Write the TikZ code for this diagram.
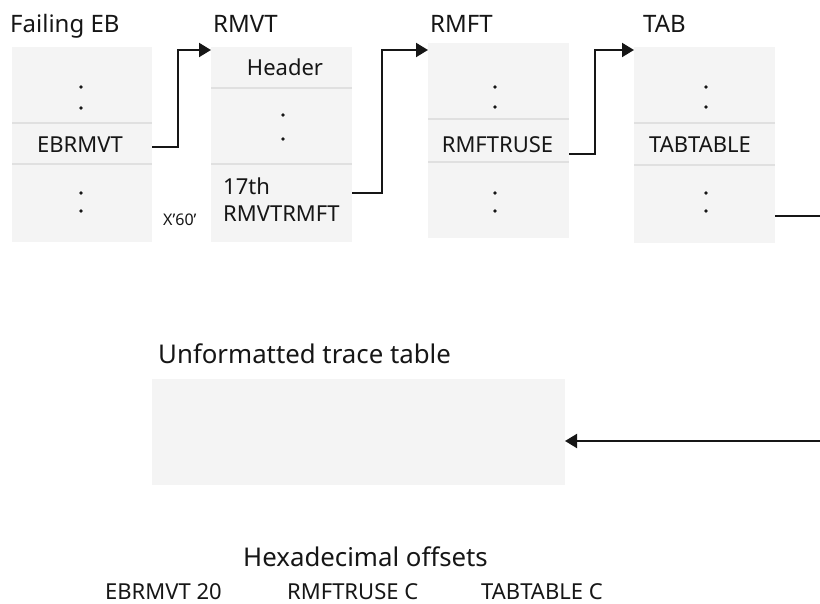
\documentclass[tikz,border=0pt]{standalone}
\usepackage{fontspec}
\setmainfont{Noto Sans}
\usetikzlibrary{arrows.meta,calc}
\definecolor{ink}{HTML}{161616}
\definecolor{boxfill}{HTML}{F4F4F4}
\definecolor{divline}{HTML}{E0E0E0}
\tikzset{
  memblock/.style={fill=boxfill, draw=none, inner sep=0pt, rectangle},
  divider/.style={draw=divline, line width=1.5pt},
  ptr/.style={draw=ink, line width=2pt, -{Triangle[length=12pt,width=14pt]}},
  ptrplain/.style={draw=ink, line width=2pt},
  title/.style={anchor=base west, inner sep=0pt, text=ink, font=\fontsize{24}{28}\selectfont},
  heading/.style={anchor=base west, inner sep=0pt, text=ink, font=\fontsize{25.8}{30}\selectfont},
  field/.style={anchor=base, inner sep=0pt, text=ink, font=\fontsize{22}{26}\selectfont},
  fieldw/.style={anchor=base west, inner sep=0pt, text=ink, font=\fontsize{22}{26}\selectfont},
  small/.style={anchor=base west, inner sep=0pt, text=ink, font=\fontsize{16}{19}\selectfont},
  dotmark/.style={fill=ink, draw=none},
}
\begin{document}
\begin{tikzpicture}[x=1pt,y=-1pt]
\useasboundingbox (0,0) rectangle (820,604);
% boxes
\node[memblock, minimum width=140pt, minimum height=195pt] (eb) at (82,144.5) {};
\node[memblock, minimum width=141pt, minimum height=195pt] (rmvt) at (281.5,144.5) {};
\node[memblock, minimum width=141pt, minimum height=195pt] (rmft) at (498.5,140.5) {};
\node[memblock, minimum width=141pt, minimum height=196pt] (tab) at (704.5,145) {};
\node[memblock, minimum width=413pt, minimum height=106pt] (trace) at (358.5,432) {};
% dividers
\draw[divider] (eb.west |- 0,123) -- (eb.east |- 0,123);
\draw[divider] (eb.west |- 0,164) -- (eb.east |- 0,164);
\draw[divider] (rmvt.west |- 0,88) -- (rmvt.east |- 0,88);
\draw[divider] (rmvt.west |- 0,164) -- (rmvt.east |- 0,164);
\draw[divider] (rmft.west |- 0,119) -- (rmft.east |- 0,119);
\draw[divider] (rmft.west |- 0,162) -- (rmft.east |- 0,162);
\draw[divider] (tab.west |- 0,123) -- (tab.east |- 0,123);
\draw[divider] (tab.west |- 0,165) -- (tab.east |- 0,165);
% titles
\node[title] (t1) at (10,33) {Failing EB};
\node[title] (t2) at (213,33) {RMVT};
\node[title] (t3) at (430,33) {RMFT};
\node[title] (t4) at (643,33) {TAB};
\node[heading] (t5) at (158,363) {Unformatted trace table};
\node[heading] (t6) at (243,566) {Hexadecimal offsets};
% field labels
\node[field] (f1) at (80,153) {EBRMVT};
\node[field] (f2) at (285,76) {Header};
\node[fieldw] (f3) at (223,195) {17th};
\node[fieldw] (f4) at (223,222) {RMVTRMFT};
\node[field] (f5) at (497.5,153) {RMFTRUSE};
\node[field] (f6) at (700,153) {TABTABLE};
\node[small] (f7) at (163,226) {X’60’};
% offsets
\node[fieldw] (o1) at (105,599) {EBRMVT 20};
\node[fieldw] (o2) at (287,599) {RMFTRUSE C};
\node[fieldw] (o3) at (481,599) {TABTABLE C};
% dots
\foreach \x/\y in {81/87,81/108,81/193,81/211,283/115,283/139,495/87,495/107,495/193,495/211,706/87,706/107,706/193,706/211}
  \fill[dotmark] (\x,\y) circle (1.9pt);
% connectors
\coordinate (p1) at (152,147);
\coordinate (q1) at (211,50);
\coordinate (p2) at (352,193);
\coordinate (q2) at (428,50);
\coordinate (p3) at (569,154);
\coordinate (q3) at (634,50);
\coordinate (p4) at (775,216);
\coordinate (q4) at (820,216);
\coordinate (p5) at (820,441);
\coordinate (q5) at (565,441);
\draw[ptr] (p1) -- ++(26,0) |- (q1);
\draw[ptr] (p2) -- ++(30,0) |- (q2);
\draw[ptr] (p3) -- ++(26,0) |- (q3);
\draw[ptrplain] (p4) -- (q4);
\draw[ptr] (p5) -- (q5);
\end{tikzpicture}
\end{document}
